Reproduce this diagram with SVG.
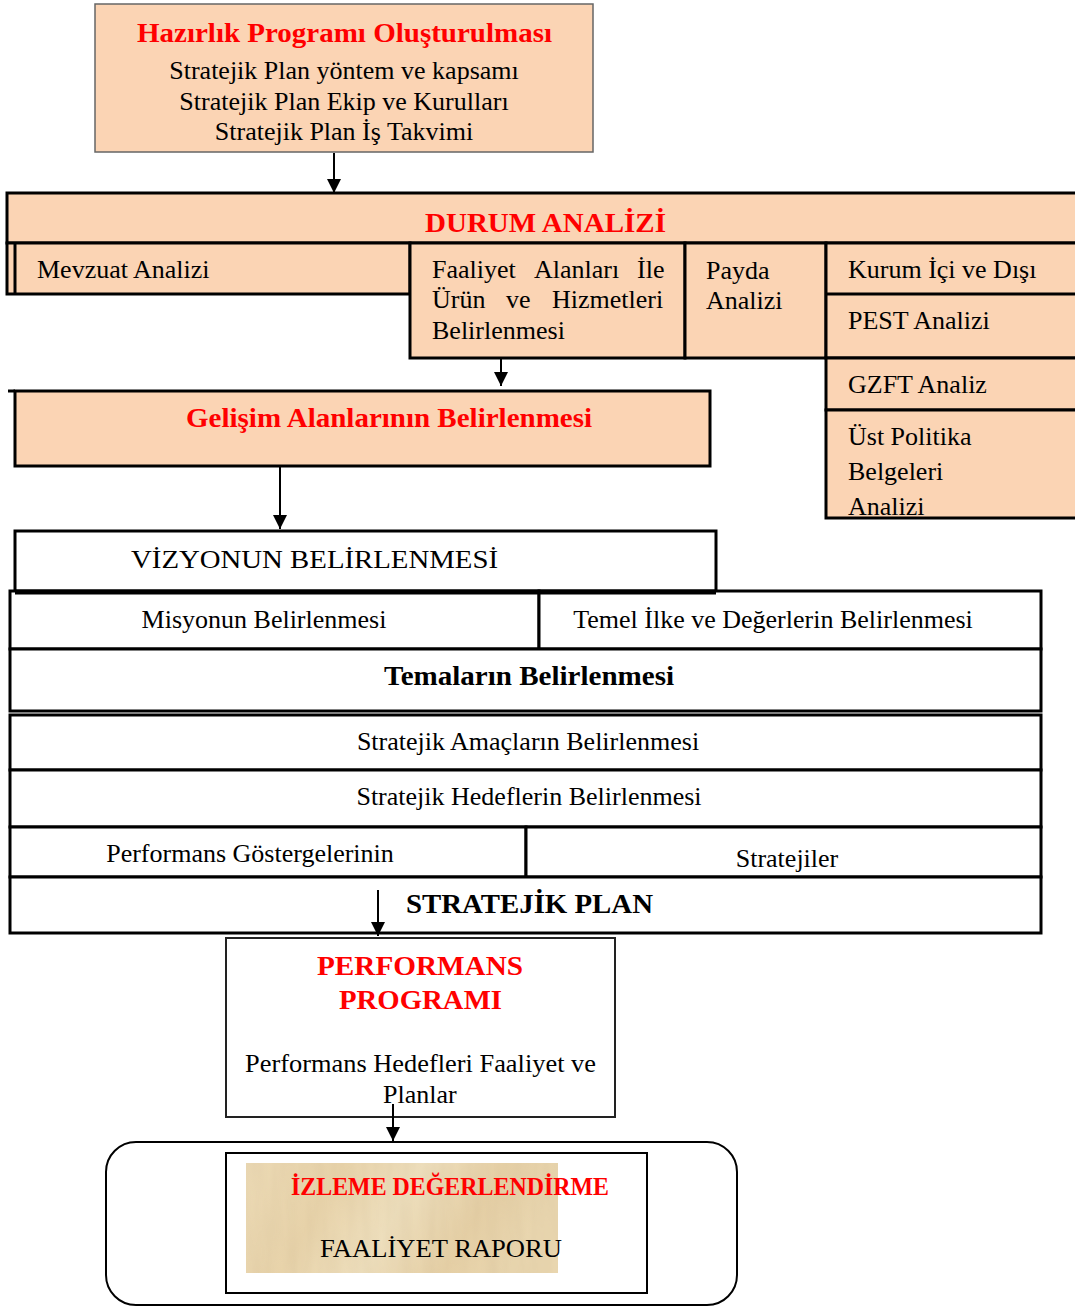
<svg xmlns="http://www.w3.org/2000/svg" width="1075" height="1306" viewBox="0 0 1075 1306">
<style>
  .peach{fill:#FBD4B4;stroke:#000;stroke-width:3}
  .white{fill:#fff;stroke:#000;stroke-width:3}
  .ln{stroke:#000;stroke-width:3;fill:none}
  .t{font-family:"Liberation Serif","Times New Roman",serif;font-size:26px;fill:#000}
  .b{font-family:"Liberation Serif","Times New Roman",serif;font-size:28px;font-weight:bold;fill:#000}
  .r{fill:#FF0000}
  .c{text-anchor:middle}
  .conn{stroke:#000;stroke-width:2;fill:none;marker-end:url(#ah)}
</style>
<defs>
  <marker id="ah" markerUnits="userSpaceOnUse" markerWidth="14" markerHeight="14" viewBox="0 0 14 14" refX="14" refY="7" orient="auto">
    <path d="M0,0 L14,7 L0,14 Z" fill="#000"/>
  </marker>
  <linearGradient id="wood" x1="0" y1="0" x2="1" y2="0.2">
    <stop offset="0" stop-color="#EBD9B4"/>
    <stop offset="0.3" stop-color="#E8D3AA"/>
    <stop offset="0.55" stop-color="#EEDFBD"/>
    <stop offset="0.8" stop-color="#E6D0A6"/>
    <stop offset="1" stop-color="#E9D6AF"/>
  </linearGradient>
  <filter id="grain" x="0" y="0" width="1" height="1">
    <feTurbulence type="fractalNoise" baseFrequency="0.08 0.012" numOctaves="2" seed="3" result="n"/>
    <feColorMatrix in="n" type="matrix" values="0 0 0 0 0.55  0 0 0 0 0.42  0 0 0 0 0.25  0 0 0 0.25 -0.06" result="c"/>
    <feComposite in="c" in2="SourceGraphic" operator="in"/>
  </filter>
</defs>

<g id="hazirlik">
  <rect x="95" y="4" width="498" height="148" fill="#FBD4B4" stroke="#666" stroke-width="1.5"/>
  <text class="b r" x="137" y="42" textLength="415" lengthAdjust="spacingAndGlyphs">Hazırlık Programı Oluşturulması</text>
  <text class="t c" x="344" y="79">Stratejik Plan yöntem ve kapsamı</text>
  <text class="t c" x="344" y="110">Stratejik Plan Ekip ve Kurulları</text>
  <text class="t c" x="344" y="140">Stratejik Plan İş Takvimi</text>
</g>

<g id="durum-analizi">
  <rect class="peach" x="7" y="193" width="1080" height="50"/>
  <text class="b r" x="425" y="232" textLength="241" lengthAdjust="spacingAndGlyphs">DURUM ANALİZİ</text>
</g>

<g id="mevzuat">
  <rect class="peach" x="7" y="243" width="403" height="51"/>
  <line class="ln" x1="15" y1="243" x2="15" y2="294"/>
  <text class="t" x="37" y="278">Mevzuat Analizi</text>
</g>

<g id="faaliyet">
  <rect class="peach" x="410" y="243" width="275" height="115"/>
  <text class="t" y="278"><tspan x="432">Faaliyet</tspan><tspan x="534">Alanları</tspan><tspan x="637">İle</tspan></text>
  <text class="t" y="308"><tspan x="432">Ürün</tspan><tspan x="506">ve</tspan><tspan x="552">Hizmetleri</tspan></text>
  <text class="t" x="432" y="339">Belirlenmesi</text>
</g>

<g id="payda">
  <rect class="peach" x="685" y="243" width="141" height="115"/>
  <text class="t" x="706" y="279">Payda</text>
  <text class="t" x="706" y="309">Analizi</text>
</g>

<g id="kurum-pest">
  <rect class="peach" x="826" y="243" width="260" height="115"/>
  <line class="ln" x1="826" y1="294" x2="1086" y2="294"/>
  <text class="t" x="848" y="278">Kurum İçi ve Dışı</text>
  <text class="t" x="848" y="329">PEST Analizi</text>
</g>

<g id="gzft">
  <rect class="peach" x="826" y="358" width="260" height="52"/>
  <text class="t" x="848" y="393">GZFT Analiz</text>
</g>

<g id="ust-politika">
  <rect class="peach" x="826" y="410" width="260" height="108"/>
  <text class="t" x="848" y="445">Üst Politika</text>
  <text class="t" x="848" y="480">Belgeleri</text>
  <text class="t" x="848" y="515">Analizi</text>
</g>

<g id="gelisim">
  <rect class="peach" x="15" y="391" width="695" height="75"/>
  <line class="ln" x1="8" y1="391" x2="15" y2="391"/>
  <text class="b r" x="186" y="427" textLength="406" lengthAdjust="spacingAndGlyphs">Gelişim Alanlarının Belirlenmesi</text>
</g>

<g id="vizyon">
  <rect class="white" x="15" y="531" width="701" height="61"/>
  <text class="t" x="131" y="568" textLength="367" lengthAdjust="spacingAndGlyphs">VİZYONUN BELİRLENMESİ</text>
</g>

<g id="misyon">
  <rect class="white" x="10" y="591" width="529" height="58"/>
  <text class="t c" x="264" y="628">Misyonun Belirlenmesi</text>
</g>
<g id="temel-ilke">
  <rect class="white" x="539" y="591" width="502" height="58"/>
  <text class="t c" x="773" y="628">Temel İlke ve Değerlerin Belirlenmesi</text>
</g>
<line x1="15" y1="592" x2="716" y2="592" stroke="#000" stroke-width="5"/>

<g id="temalar">
  <rect class="white" x="10" y="649" width="1031" height="62"/>
  <text class="b" x="384" y="685" textLength="290" lengthAdjust="spacingAndGlyphs">Temaların Belirlenmesi</text>
</g>

<g id="amaclar">
  <rect class="white" x="10" y="715" width="1031" height="55"/>
  <text class="t c" x="528" y="750">Stratejik Amaçların Belirlenmesi</text>
</g>

<g id="hedefler">
  <rect class="white" x="10" y="770" width="1031" height="57"/>
  <text class="t c" x="529" y="805">Stratejik Hedeflerin Belirlenmesi</text>
</g>

<g id="gostergeler">
  <rect class="white" x="10" y="827" width="516" height="50"/>
  <text class="t c" x="250" y="862">Performans Göstergelerinin</text>
</g>
<g id="stratejiler">
  <rect class="white" x="526" y="827" width="515" height="50"/>
  <text class="t c" x="787" y="867">Stratejiler</text>
</g>

<g id="stratejik-plan">
  <rect class="white" x="10" y="877" width="1031" height="56"/>
  <text class="b" x="406" y="913" textLength="247" lengthAdjust="spacingAndGlyphs">STRATEJİK PLAN</text>
</g>

<g id="performans-programi">
  <rect x="226" y="938" width="389" height="179" fill="#fff" stroke="#222" stroke-width="2"/>
  <text class="b r" x="317" y="975" textLength="206" lengthAdjust="spacingAndGlyphs">PERFORMANS</text>
  <text class="b r" x="339" y="1009" textLength="163" lengthAdjust="spacingAndGlyphs">PROGRAMI</text>
  <text class="t" x="245" y="1072" textLength="351" lengthAdjust="spacingAndGlyphs">Performans Hedefleri Faaliyet ve</text>
  <text class="t" x="383" y="1103">Planlar</text>
</g>

<g id="izleme">
  <rect x="106" y="1142" width="631" height="163" rx="30" ry="30" fill="#fff" stroke="#000" stroke-width="2"/>
  <rect x="226" y="1153" width="421" height="140" fill="#fff" stroke="#000" stroke-width="2"/>
  <rect x="246" y="1163" width="312" height="110" fill="url(#wood)"/>
  <rect x="246" y="1163" width="312" height="110" fill="#000" filter="url(#grain)"/>
  <text class="b r" x="291" y="1195" style="font-size:25px" textLength="318" lengthAdjust="spacingAndGlyphs">İZLEME DEĞERLENDİRME</text>
  <text class="t" x="320" y="1257" textLength="242" lengthAdjust="spacingAndGlyphs">FAALİYET RAPORU</text>
</g>

<g id="connectors">
  <line class="conn" x1="334" y1="153" x2="334" y2="193"/>
  <line class="conn" x1="501" y1="359" x2="501" y2="386"/>
  <line class="conn" x1="280" y1="467" x2="280" y2="529"/>
  <line class="conn" x1="378" y1="890" x2="378" y2="936"/>
  <line class="conn" x1="393" y1="1104" x2="393" y2="1141"/>
</g>
</svg>
